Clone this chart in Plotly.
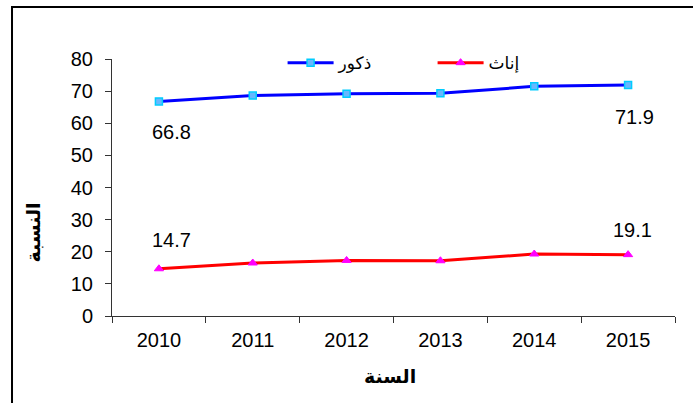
import plotly.graph_objects as go

years = ["2010", "2011", "2012", "2013", "2014", "2015"]
male = [66.8, 68.6, 69.2, 69.3, 71.5, 71.9]
female = [14.7, 16.5, 17.3, 17.2, 19.3, 19.1]
male_name = "ذكور"
female_name = "إناث"
x_title = "السنة"
y_title = "النسبة"
y_ticks = [0, 10, 20, 30, 40, 50, 60, 70, 80]

FONT = "Liberation Sans, Arial, DejaVu Sans, sans-serif"
xpos = list(range(len(years)))

fig = go.Figure()
fig.add_trace(go.Scatter(
    x=xpos, y=male, name=male_name, mode="lines+markers",
    line=dict(color="#0000FF", width=3),
    marker=dict(symbol="square", size=7, color="#66B8FF",
                line=dict(color="#00CCFF", width=1.5)),
))
fig.add_trace(go.Scatter(
    x=xpos, y=female, name=female_name, mode="lines+markers",
    line=dict(color="#FF0000", width=3),
    marker=dict(symbol="triangle-up", size=8, color="#FF00FF",
                line=dict(color="#FF00FF", width=1)),
))

annotations = []
label_specs = [
    (male, 0, -31, 13), (male, 5, -32, 6),
    (female, 0, 29, 13), (female, 5, 25, 4),
]
for series, i, ys, xs in label_specs:
    annotations.append(dict(
        x=xpos[i], y=series[i], xref="x", yref="y",
        text=f"{series[i]:.1f}", showarrow=False,
        yshift=ys, xshift=xs, yanchor="middle", xanchor="center",
        font=dict(family=FONT, size=20, color="black"),
    ))
annotations.append(dict(
    x=0.494, y=-0.235, xref="paper", yref="paper", text=f"<b>{x_title}</b>",
    showarrow=False, xanchor="center", yanchor="middle",
    font=dict(family="DejaVu Sans, sans-serif", size=19, color="black"),
))
annotations.append(dict(
    x=-0.140, y=0.326, xref="paper", yref="paper", text=f"<b>{y_title}</b>",
    showarrow=False, textangle=-90, xanchor="center", yanchor="middle",
    font=dict(family="DejaVu Sans, sans-serif", size=19, color="black"),
))

fig.update_layout(
    width=693, height=403,
    margin=dict(l=112, r=18, t=59, b=87),
    paper_bgcolor="white", plot_bgcolor="white",
    font=dict(family=FONT, size=20, color="black"),
    showlegend=True,
    legend=dict(
        orientation="h", x=0.303, y=0.984, xanchor="left", yanchor="middle",
        bgcolor="rgba(255,255,255,0)", entrywidth=89, itemwidth=46,
        font=dict(family="DejaVu Sans, Liberation Sans, sans-serif", size=17, color="black"),
        itemclick=False,
    ),
    xaxis=dict(
        range=[-0.5, 5.5], tickvals=xpos, ticktext=years,
        showgrid=False, zeroline=False,
        showline=True, linecolor="#333333", linewidth=1,
        ticks="", ticklabelstandoff=6,
        minor=dict(tick0=-0.5, dtick=1, ticks="outside", ticklen=6,
                   tickcolor="#333333", showgrid=False),
        tickfont=dict(family=FONT, size=20, color="black"),
    ),
    yaxis=dict(
        range=[0, 80], tickvals=y_ticks, showgrid=False, zeroline=False,
        showline=True, linecolor="#333333", linewidth=1,
        ticks="outside", ticklen=6, tickcolor="#333333", ticklabelstandoff=8,
        tickfont=dict(family=FONT, size=20, color="black"),
    ),
    annotations=annotations,
    shapes=[dict(
        type="rect", xref="paper", yref="paper",
        x0=-0.1776, x1=1.06, y0=-0.4, y1=1.202,
        line=dict(color="black", width=2), fillcolor="rgba(0,0,0,0)", layer="below",
    )],
)

fig.write_html(
    "out.html",
    config={"displayModeBar": False},
    post_script="document.body.style.margin='0';document.body.style.overflow='hidden';",
)
